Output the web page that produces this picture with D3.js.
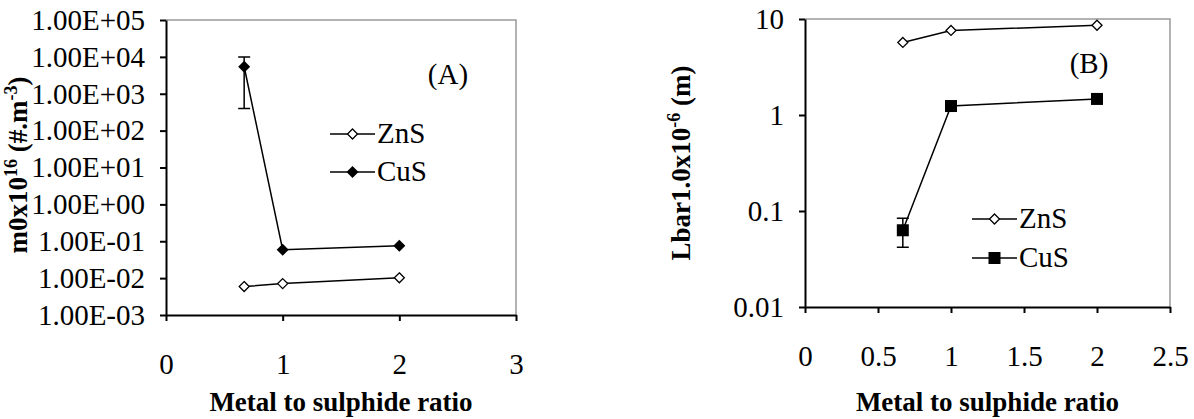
<!DOCTYPE html>
<html><head><meta charset="utf-8">
<script src="https://cdn.jsdelivr.net/npm/d3@7"></script>
<style>body{margin:0;background:#fff}svg text{font-family:"Liberation Serif","Times New Roman",serif;fill:#000}</style>
</head><body><svg id="c" width="1194" height="419"></svg>
<script>
const seriesNames = ["ZnS","CuS"];
const xA = [0.67, 1, 2];
const znsA = [0.0059, 0.0071, 0.0102];
const cusA = [5400, 0.059, 0.076];
const cusAErr = [[0.67, 400, 10000]];
const yTicksA = [1e-3,1e-2,1e-1,1e0,1e1,1e2,1e3,1e4,1e5];
const xTicksA = [0,1,2,3];
const xB = [0.67, 1, 2];
const znsB = [5.7, 7.6, 8.6];
const cusB = [0.063, 1.24, 1.47];
const cusBErr = [[0.67, 0.042, 0.084]];
const yTicksB = [0.01, 0.1, 1, 10];
const xTicksB = [0,0.5,1,1.5,2,2.5];

const FS = 29, LS = 27;
const svg = d3.select("#c");
function fmtE(v){const e=Math.round(Math.log10(v));return "1.00E"+(e<0?"-":"+")+String(Math.abs(e)).padStart(2,"0");}

function panel(o){
  const g = svg.append("g");
  const x = d3.scaleLinear().domain(o.xd).range([o.l,o.r]);
  const y = d3.scaleLog().domain(o.yd).range([o.b,o.t]);
  g.append("path").attr("d",`M${o.l},${o.t}H${o.r}V${o.b}`).attr("fill","none").attr("stroke","#999").attr("stroke-width",1.5);
  const ya = g.append("g").attr("transform",`translate(${o.l},0)`).call(d3.axisLeft(y).tickValues(o.yt).tickFormat(o.yf).tickSize(6).tickSizeOuter(0));
  const xa = g.append("g").attr("transform",`translate(0,${o.b})`).call(d3.axisBottom(x).tickValues(o.xt).tickFormat(d=>d).tickSize(6).tickSizeOuter(0));
  [ya,xa].forEach(a=>{a.attr("font-size",FS).attr("font-family","Liberation Serif");a.select(".domain").attr("stroke","#000").attr("stroke-width",2);a.selectAll("line").attr("stroke","#000").attr("stroke-width",2);a.selectAll("text").attr("font-size",FS).style("font-size",FS+"px");});
  ya.selectAll("text").attr("x",-21);
  xa.selectAll("text").attr("y",38);
  const line = d3.line().x(d=>x(d[0])).y(d=>y(d[1]));
  o.err.forEach(e=>{
    g.append("path").attr("d",`M${x(e[0])-6},${y(e[1])}H${x(e[0])+6}M${x(e[0])},${y(e[1])}V${y(e[2])}M${x(e[0])-6},${y(e[2])}H${x(e[0])+6}`).attr("stroke","#000").attr("stroke-width",1.5).attr("fill","none");
  });
  o.series.forEach((s,i)=>{
    const pts = o.xs.map((v,j)=>[v,s[j]]);
    g.append("path").attr("d",line(pts)).attr("fill","none").attr("stroke","#000").attr("stroke-width",1.5);
    pts.forEach(p=>marker(g,x(p[0]),y(p[1]),o.mk[i]));
  });
  seriesNames.forEach((n,i)=>{
    const ly=o.leg[1]+i*o.leg[3];
    g.append("line").attr("x1",o.leg[0]).attr("x2",o.leg[0]+o.leg[2]).attr("y1",ly).attr("y2",ly).attr("stroke","#000").attr("stroke-width",1.5);
    marker(g,o.leg[0]+o.leg[2]/2,ly,o.mk[i]);
    g.append("text").attr("x",o.leg[0]+o.leg[2]+2).attr("y",ly+9).style("font-size",FS+"px").text(n);
  });
  g.append("text").attr("x",o.tag[0]).attr("y",o.tag[1]).attr("text-anchor","middle").style("font-size",FS+"px").text(o.tag[2]);
  g.append("text").attr("x",(o.l+o.r)/2).attr("y",411).attr("text-anchor","middle").style("font-size",LS+"px").style("font-weight","bold").text("Metal to sulphide ratio");
  const yl = g.append("text").attr("transform",`translate(${o.ylx},${o.yly}) rotate(-90)`).attr("text-anchor","middle").style("font-size",LS+"px").style("font-weight","bold");
  o.ylab(yl);
}
function marker(g,cx,cy,t){
  if(t==="od") g.append("path").attr("d",`M${cx},${cy-5}L${cx+5},${cy}L${cx},${cy+5}L${cx-5},${cy}Z`).attr("fill","#fff").attr("stroke","#000").attr("stroke-width",1.3);
  else if(t==="fd") g.append("path").attr("d",`M${cx},${cy-6}L${cx+6},${cy}L${cx},${cy+6}L${cx-6},${cy}Z`).attr("fill","#000");
  else g.append("rect").attr("x",cx-6).attr("y",cy-6).attr("width",12).attr("height",12).attr("fill","#000");
}
panel({l:166,r:516,t:20,b:315,xd:[0,3],yd:[1e-3,1e5],yt:yTicksA,yf:fmtE,xt:xTicksA,xs:xA,series:[znsA,cusA],mk:["od","fd"],err:cusAErr,
  leg:[330,134,45,38],tag:[448,84,"(A)"],ylx:27,yly:165,
  ylab:t=>{t.append("tspan").text("m0x10");t.append("tspan").attr("dy",-10).style("font-size","18px").text("16");t.append("tspan").attr("dy",10).text(" (#.m");t.append("tspan").attr("dy",-10).style("font-size","18px").text("-3");t.append("tspan").attr("dy",10).text(")");}});
panel({l:805,r:1170,t:19,b:307,xd:[0,2.5],yd:[0.01,10],yt:yTicksB,yf:d=>d,xt:xTicksB,xs:xB,series:[znsB,cusB],mk:["od","sq"],err:cusBErr,
  leg:[972,219,45,39],tag:[1089,73,"(B)"],ylx:690,yly:163,
  ylab:t=>{t.append("tspan").text("Lbar1.0x10");t.append("tspan").attr("dy",-10).style("font-size","18px").text("-6");t.append("tspan").attr("dy",10).text(" (m)");}});
</script></body></html>
